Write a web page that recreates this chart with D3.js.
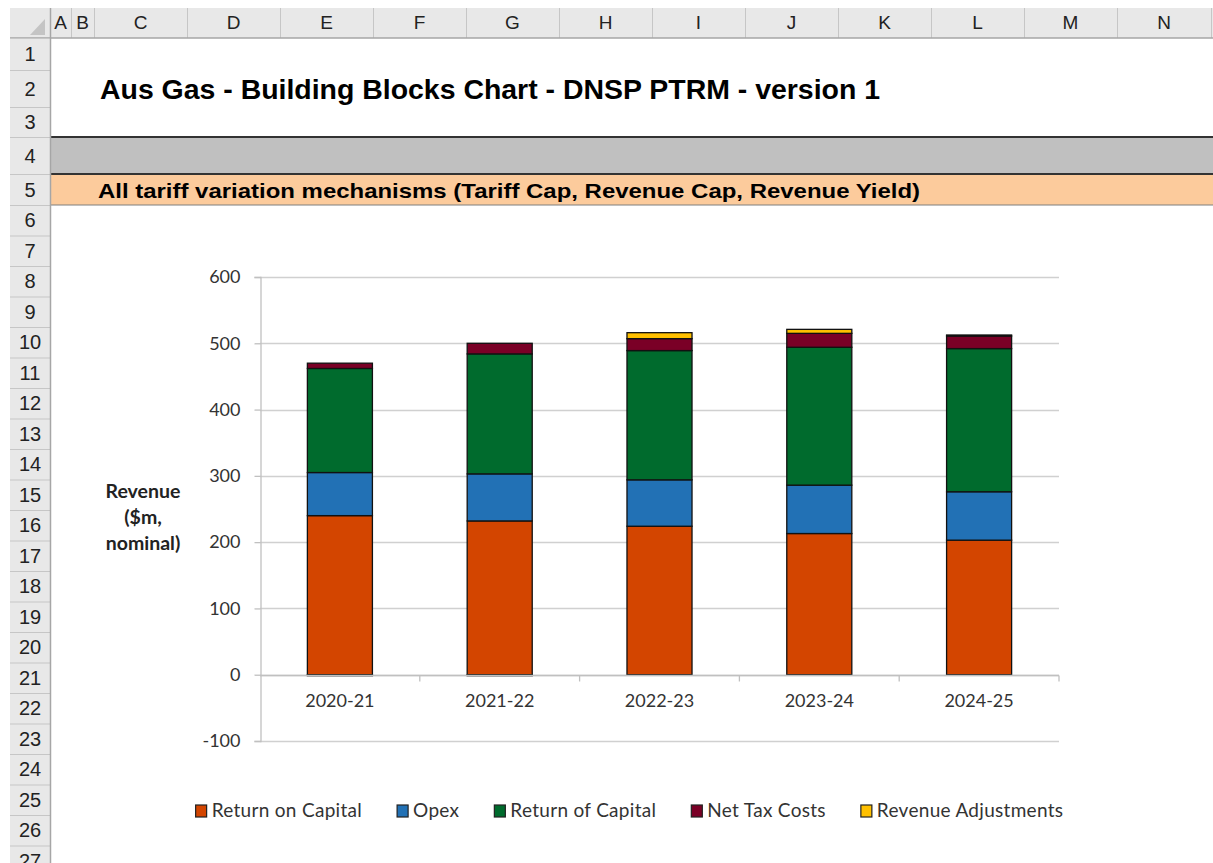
<!DOCTYPE html>
<html>
<head>
<meta charset="utf-8">
<script src="https://cdn.jsdelivr.net/npm/d3@7"></script>
<style>
  html, body { margin: 0; padding: 0; background: #fff; }
  svg { display: block; }
</style>
</head>
<body>
<svg id="chart" width="1213" height="863"></svg>
<script>
// ---------------- DATA ----------------
const categories = ["2020-21", "2021-22", "2022-23", "2023-24", "2024-25"];
const seriesNames = ["Return on Capital", "Opex", "Return of Capital", "Net Tax Costs", "Revenue Adjustments"];
const returnOnCapital   = [240, 232, 224, 213, 203];
const opex              = [65, 71, 70, 73, 73];
const returnOfCapital   = [157, 181, 195, 208, 216];
const netTaxCosts       = [8, 16, 18, 21, 19];
const revenueAdjustments = [-1.5, -1.5, 9, 6, 1.5];
const yTicks = [-100, 0, 100, 200, 300, 400, 500, 600];
const seriesColors = ["#D34500", "#2271B5", "#006B2D", "#7A0026", "#FFC000"];

const columnLetters = ["A","B","C","D","E","F","G","H","I","J","K","L","M","N"];
const rowNumbers = d3.range(1, 28);

const sheetTitle = "Aus Gas - Building Blocks Chart - DNSP PTRM - version 1";
const sectionTitle = "All tariff variation mechanisms (Tariff Cap, Revenue Cap, Revenue Yield)";
const yAxisTitle = ["Revenue", "($m,", "nominal)"];

// ---------------- SPREADSHEET CHROME ----------------
const svg = d3.select("#chart");
const W = 1213, H = 863;

const colEdges = [50, 71, 94, 187, 280, 373, 466, 559, 652, 745, 838, 931, 1024, 1117, 1211];
const rowEdges = [38, 70, 107, 137, 174, 205];
for (let i = 6; i <= 27; i++) rowEdges.push(205 + (i - 5) * 30.5);

// row 4 gray band and row 5 orange band
svg.append("rect").attr("x", 50).attr("y", rowEdges[3]).attr("width", W - 50).attr("height", rowEdges[4] - rowEdges[3]).attr("fill", "#C0C0C0");
svg.append("rect").attr("x", 50).attr("y", rowEdges[4]).attr("width", W - 50).attr("height", rowEdges[5] - rowEdges[4]).attr("fill", "#FCCB9C");
svg.append("line").attr("x1", 50).attr("x2", W).attr("y1", rowEdges[3]).attr("y2", rowEdges[3]).attr("stroke", "#333").attr("stroke-width", 2);
svg.append("line").attr("x1", 50).attr("x2", W).attr("y1", rowEdges[4]).attr("y2", rowEdges[4]).attr("stroke", "#333").attr("stroke-width", 2);
svg.append("line").attr("x1", 50).attr("x2", W).attr("y1", rowEdges[5]).attr("y2", rowEdges[5]).attr("stroke", "#7f7f7f").attr("stroke-width", 1);

// column header
svg.append("rect").attr("x", 10).attr("y", 8).attr("width", W - 10).attr("height", 30).attr("fill", "#E8E8E8");
svg.append("path").attr("d", "M45,19 L45,35 L30,35 Z").attr("fill", "#C4C4C4");
colEdges.forEach(x => svg.append("line").attr("x1", x + 0.5).attr("x2", x + 0.5).attr("y1", 8).attr("y2", 38).attr("stroke", "#C6C6C6"));
columnLetters.forEach((c, i) => {
  svg.append("text").attr("x", (colEdges[i] + colEdges[i + 1]) / 2).attr("y", 29)
    .attr("text-anchor", "middle").attr("font-family", "Liberation Sans, Arial, sans-serif")
    .attr("font-size", 19).attr("fill", "#222").text(c);
});
svg.append("line").attr("x1", 10).attr("x2", W).attr("y1", 38).attr("y2", 38).attr("stroke", "#A6A6A6").attr("stroke-width", 1.5);

// row header
svg.append("rect").attr("x", 10).attr("y", 38).attr("width", 40).attr("height", H - 38).attr("fill", "#E8E8E8");
rowEdges.forEach(y => svg.append("line").attr("x1", 10).attr("x2", 50).attr("y1", y + 0.5).attr("y2", y + 0.5).attr("stroke", "#C6C6C6"));
rowNumbers.forEach((r, i) => {
  svg.append("text").attr("x", 30).attr("y", (rowEdges[i] + rowEdges[i + 1]) / 2 + 7)
    .attr("text-anchor", "middle").attr("font-family", "Liberation Sans, Arial, sans-serif")
    .attr("font-size", 20).attr("fill", "#222").text(r);
});
svg.append("line").attr("x1", 50.5).attr("x2", 50.5).attr("y1", 8).attr("y2", H).attr("stroke", "#A6A6A6").attr("stroke-width", 1.5);

// titles
svg.append("text").attr("x", 100).attr("y", 99).attr("font-family", "Liberation Sans, Arial, sans-serif")
  .attr("font-weight", "bold").attr("font-size", 28).attr("fill", "#000")
  .attr("textLength", 780).attr("lengthAdjust", "spacingAndGlyphs").text(sheetTitle);
svg.append("text").attr("x", 98).attr("y", 198).attr("font-family", "Liberation Sans, Arial, sans-serif")
  .attr("font-weight", "bold").attr("font-size", 21).attr("fill", "#000")
  .attr("textLength", 822).attr("lengthAdjust", "spacingAndGlyphs").text(sectionTitle);

// ---------------- CHART ----------------
const chartFont = "Lato, 'Open Sans', sans-serif";
const plotLeft = 260, plotRight = 1059, plotTop = 277, plotBottom = 741;

const y = d3.scaleLinear().domain([-100, 600]).range([plotBottom, plotTop]);
const x = d3.scaleBand().domain(categories).range([plotLeft, plotRight]).paddingInner(0.593).paddingOuter(0.2965);

const table = categories.map((c, i) => ({
  category: c,
  "Return on Capital": returnOnCapital[i],
  "Opex": opex[i],
  "Return of Capital": returnOfCapital[i],
  "Net Tax Costs": netTaxCosts[i],
  "Revenue Adjustments": revenueAdjustments[i]
}));
const stacked = d3.stack().keys(seriesNames).offset(d3.stackOffsetDiverging)(table);

// gridlines
const g = svg.append("g");
g.selectAll("line.grid").data(yTicks).join("line")
  .attr("x1", plotLeft).attr("x2", plotRight)
  .attr("y1", d => Math.round(y(d)) + 0.5).attr("y2", d => Math.round(y(d)) + 0.5)
  .attr("stroke", "#D0D0D0").attr("stroke-width", 1.3);

// y axis
const yAxis = d3.axisLeft(y).tickValues(yTicks).tickSize(6).tickPadding(14).tickFormat(d => String(d));
const yg = svg.append("g").attr("transform", `translate(${plotLeft + 0.5},0)`).call(yAxis);
yg.select(".domain").attr("stroke", "#C0C0C0").attr("stroke-width", 1.3);
yg.selectAll(".tick line").attr("stroke", "#C0C0C0").attr("stroke-width", 1.3);
yg.selectAll(".tick text").attr("font-family", chartFont).attr("font-size", 18).attr("fill", "#333");

// bars
svg.append("g").selectAll("g").data(stacked).join("g")
  .attr("fill", (d, i) => seriesColors[i])
  .selectAll("rect").data(d => d).join("rect")
  .attr("x", d => x(d.data.category))
  .attr("width", x.bandwidth())
  .attr("y", d => y(Math.max(d[0], d[1])))
  .attr("height", d => Math.abs(y(d[0]) - y(d[1])))
  .attr("stroke", "#111").attr("stroke-width", 1.3);

// x axis (at zero) with ticks between categories
const x0 = Math.round(y(0)) + 0.5;
svg.append("line").attr("x1", plotLeft).attr("x2", plotRight).attr("y1", x0).attr("y2", x0)
  .attr("stroke", "#C0C0C0").attr("stroke-width", 1.3);
const step = x.step();
const boundaries = d3.range(1, categories.length + 1).map(i => plotLeft + i * step);
svg.append("g").selectAll("line").data(boundaries).join("line")
  .attr("x1", d => d).attr("x2", d => d).attr("y1", x0).attr("y2", x0 + 6)
  .attr("stroke", "#C0C0C0").attr("stroke-width", 1.3);
svg.append("g").selectAll("text").data(categories).join("text")
  .attr("x", d => x(d) + x.bandwidth() / 2).attr("y", 707)
  .attr("text-anchor", "middle").attr("font-family", chartFont).attr("font-size", 18).attr("fill", "#333")
  .text(d => d);

// y axis title
const yt = svg.append("text").attr("text-anchor", "middle").attr("font-family", chartFont)
  .attr("font-weight", "bold").attr("font-size", 19.5).attr("fill", "#222");
yAxisTitle.forEach((t, i) => yt.append("tspan").attr("x", 143).attr("y", 498 + i * 26).text(t));

// legend
const legend = svg.append("g");
const items = legend.selectAll("g").data(seriesNames).join("g");
items.append("rect").attr("width", 11).attr("height", 12).attr("y", 805)
  .attr("fill", (d, i) => seriesColors[i]).attr("stroke", "#222").attr("stroke-width", 1.2);
items.append("text").attr("x", 16).attr("y", 817).attr("font-family", chartFont).attr("font-size", 19)
  .attr("letter-spacing", 0.3).attr("fill", "#333").text(d => d);
let cursor = 0;
const widths = [];
items.each(function () { widths.push(d3.select(this).select("text").node().getComputedTextLength()); });
const total = widths.reduce((a, w) => a + 16 + w, 0) + 35 * (widths.length - 1);
cursor = 629.5 - total / 2;
items.each(function (d, i) {
  d3.select(this).attr("transform", `translate(${cursor},0)`);
  cursor += 16 + widths[i] + 35;
});
</script>
</body>
</html>
